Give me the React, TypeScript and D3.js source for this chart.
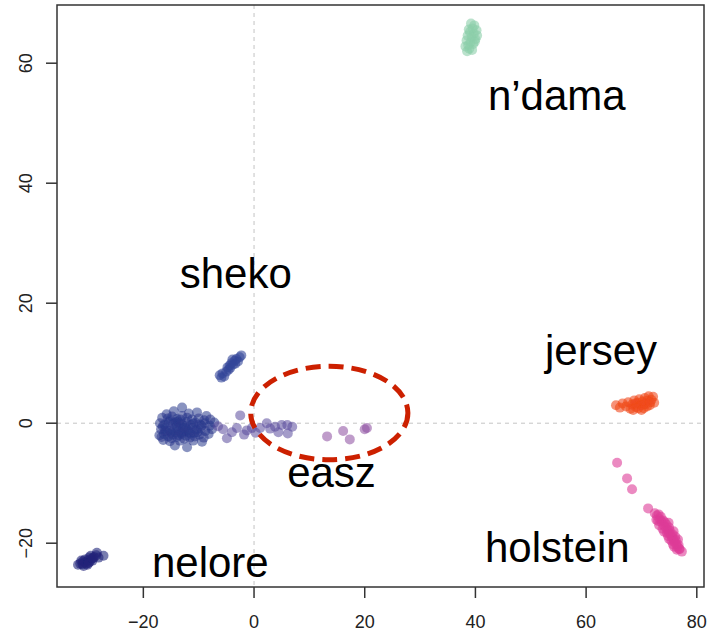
import React from "react";
import * as d3 from "d3";

// PCA scores (PC1, PC2) per breed group
const nelore: [number, number][] = [
  [-31.8, -23.6], [-31.4, -23.4], [-31.0, -23.5], [-30.6, -23.2], [-30.9, -23.0],
  [-30.3, -23.4], [-30.0, -22.9], [-29.7, -23.1], [-30.5, -22.7], [-29.4, -22.6],
  [-29.8, -22.4], [-29.2, -22.9], [-28.9, -22.3], [-29.5, -22.1], [-28.5, -22.0],
  [-31.2, -22.9], [-30.1, -23.6], [-27.2, -22.1], [-28.1, -22.4], [-28.4, -21.6],
  [-30.8, -23.8], [-29.9, -23.3], [-29.1, -22.5],
];

const sheko: [number, number][] = [
  [-6.2, 8.0], [-5.7, 8.3], [-5.4, 7.8], [-5.0, 8.6], [-4.8, 9.3], [-4.4, 9.6],
  [-4.1, 10.0], [-3.8, 9.8], [-3.5, 10.4], [-3.2, 10.7], [-2.9, 10.3], [-2.6, 11.0],
  [-2.3, 11.3], [-4.6, 8.9], [-3.9, 10.6], [-5.9, 7.6], [-4.3, 9.2], [-3.4, 9.9],
];

const zebu: [number, number][] = [
  [-14.5, 2.0], [-13.0, 2.6], [-11.8, 1.6], [-10.3, 1.8], [-15.8, 1.5], [-8.6, 1.2],
  [-16.6, 0.9], [-15.6, 0.8], [-14.8, 1.1], [-13.9, 0.7], [-13.0, 1.2], [-12.1, 0.9],
  [-11.2, 0.6], [-10.0, 0.8], [-9.0, 0.5], [-7.9, 0.6],
  [-17.0, 0.0], [-16.2, -0.2], [-15.4, 0.2], [-14.6, -0.1], [-13.8, 0.3], [-13.0, -0.2],
  [-12.2, 0.2], [-11.4, -0.3], [-10.6, 0.1], [-9.8, -0.2], [-8.9, 0.0], [-8.0, -0.4], [-7.2, 0.1],
  [-16.8, -1.0], [-16.0, -0.8], [-15.2, -1.2], [-14.4, -0.9], [-13.6, -1.3], [-12.8, -0.9],
  [-12.0, -1.2], [-11.2, -0.8], [-10.4, -1.1], [-9.6, -0.9], [-8.8, -1.3], [-7.6, -1.0],
  [-17.1, -2.0], [-16.3, -1.8], [-15.5, -2.2], [-14.7, -1.9], [-13.9, -2.3], [-13.1, -1.8],
  [-12.3, -2.1], [-11.5, -1.7], [-10.7, -2.2], [-9.9, -1.9], [-9.1, -2.4], [-8.2, -1.8],
  [-16.4, -2.8], [-14.3, -3.7], [-13.4, -2.9], [-12.1, -4.0], [-11.0, -2.9], [-9.4, -3.1], [-15.2, -3.0],
  [-14.0, -0.5], [-13.2, -1.6], [-12.5, -0.5], [-15.0, -1.6], [-11.8, -1.5], [-14.2, -1.5],
  [-13.5, 0.0], [-12.7, -1.4], [-15.8, -1.4], [-16.5, -0.5], [-10.2, -1.5], [-11.0, -0.1],
  [-15.1, 0.5], [-14.1, 0.1], [-13.3, 0.6], [-12.4, -0.8], [-16.1, -1.3], [-14.9, -2.5],
  [-13.7, -2.0], [-12.6, -2.6], [-11.6, -2.4], [-10.8, -1.6], [-9.5, -0.4], [-16.7, -2.3],
];

const admixed: [number, number][] = [
  [-6.5, -0.5], [-4.9, -2.5], [-4.0, -1.5], [-2.5, 1.3], [-3.1, -0.8], [-1.8, -1.9],
  [-1.3, -1.2], [-0.4, -0.8], [0.3, -1.6], [1.1, -0.8], [2.3, 0.0], [2.9, -0.9],
  [3.8, -0.6], [4.4, -1.5], [5.0, -0.3], [6.0, -0.3], [6.1, -1.7], [6.9, -0.6], [-5.6, -1.0],
];

const easz: [number, number][] = [
  [13.2, -2.2], [16.1, -1.3], [17.3, -2.7], [20.0, -1.0], [20.4, -0.8],
];

const ndama: [number, number][] = [
  [39.2, 66.6], [39.8, 66.3], [39.5, 65.8], [40.2, 65.5], [39.0, 65.2], [39.7, 64.9],
  [38.6, 64.6], [39.3, 64.3], [40.0, 64.0], [38.4, 63.8], [39.1, 63.5], [38.7, 63.0],
  [39.6, 63.2], [38.2, 62.8], [38.9, 62.4], [38.5, 62.0], [39.4, 62.2], [40.3, 64.6],
  [38.8, 65.6], [39.9, 63.6],
];

const jersey: [number, number][] = [
  [65.4, 3.0], [66.1, 2.6], [66.6, 3.3], [67.2, 2.8], [67.6, 3.5], [68.0, 2.4],
  [68.3, 3.1], [68.7, 3.8], [69.0, 2.7], [69.3, 3.4], [69.6, 4.0], [69.9, 3.0],
  [70.2, 3.6], [70.4, 2.5], [70.6, 4.2], [70.8, 3.2], [71.1, 3.8], [71.3, 4.5],
  [71.5, 3.0], [71.8, 3.9], [72.1, 4.4], [71.0, 2.8], [70.0, 2.2], [68.5, 2.2], [72.3, 3.4],
  [69.4, 2.5], [70.5, 3.3], [71.6, 3.5], [68.9, 3.3],
];

const holstein: [number, number][] = [
  [65.6, -6.6], [67.4, -9.2], [68.3, -11.0], [71.2, -14.2],
  [72.4, -15.0], [72.8, -15.4], [73.1, -15.2], [73.3, -16.0], [73.6, -16.4], [73.9, -16.2],
  [74.0, -17.0], [74.3, -17.3], [74.5, -16.9], [74.7, -17.8], [74.9, -18.2], [75.1, -17.9],
  [75.3, -18.6], [75.5, -19.0], [75.6, -18.5], [75.8, -19.4], [76.0, -19.8], [76.2, -19.5],
  [76.3, -20.2], [76.5, -20.6], [76.7, -20.3], [76.9, -21.0], [77.3, -21.4], [73.5, -15.6],
  [74.8, -18.8], [75.9, -20.6], [76.4, -21.1], [73.0, -16.3], [74.2, -16.5], [75.0, -17.4],
  [75.4, -19.6], [76.1, -18.9], [76.8, -20.9], [73.8, -17.6], [74.6, -18.3],
  [73.2, -17.0], [74.1, -18.1], [75.0, -19.3], [75.7, -20.2], [74.9, -16.6], [75.8, -18.0],
  [76.6, -19.4], [72.7, -16.1],
];

const xTicks = [-20, 0, 20, 40, 60, 80];
const yTicks = [-20, 0, 20, 40, 60];

// breed names and the (PC1, PC2) point each name is centred on
const breedNames = ["n’dama", "sheko", "jersey", "easz", "holstein", "nelore"];
const breedNameAt: [number, number][] = [
  [54.7, 52.2], [-3.3, 22.5], [62.7, 9.7], [14.0, -10.7], [54.8, -23.2], [-7.9, -25.7],
];

// highlighted region around the easz samples: centre, radii (in PC units)
const highlightCentre: [number, number] = [13.6, 1.7];
const highlightRadii: [number, number] = [14.2, 7.8];

const groups = [
  { pts: nelore, color: "#22237a", op: 0.6 },
  { pts: zebu, color: "#2a398c", op: 0.55 },
  { pts: sheko, color: "#34469a", op: 0.6 },
  { pts: admixed, color: "#5a4b9c", op: 0.55 },
  { pts: easz, color: "#8a4a9e", op: 0.55 },
  { pts: ndama, color: "#8ccfaa", op: 0.6 },
  { pts: jersey, color: "#f04a1a", op: 0.6 },
  { pts: holstein, color: "#de3c98", op: 0.6 },
];

export default function App() {
  const W = 712;
  const H = 634;
  const left = 57, right = 704, top = 5, bottom = 587;
  const x = d3.scaleLinear().domain([-35.6, 81.3]).range([left, right]);
  const y = d3.scaleLinear().domain([-27.3, 69.7]).range([bottom, top]);
  const font = "'Liberation Sans', Arial, Helvetica, sans-serif";

  return (
    <svg
      width={W}
      height={H}
      style={{ position: "absolute", left: 0, top: 0, background: "#fff" }}
      fontFamily={font}
    >
      <defs>
        <filter id="soft" x="-10%" y="-10%" width="120%" height="120%">
          <feGaussianBlur stdDeviation={0.6} />
        </filter>
      </defs>

      {/* zero reference lines */}
      <line x1={x(0)} x2={x(0)} y1={top} y2={bottom} stroke="#c4c4c4" strokeDasharray="4,4" strokeWidth={1} />
      <line x1={left} x2={right} y1={y(0)} y2={y(0)} stroke="#c4c4c4" strokeDasharray="4,4" strokeWidth={1} />

      {/* samples */}
      <g filter="url(#soft)">
        {groups.map((g, gi) =>
          g.pts.map((p, i) => (
            <circle key={`${gi}-${i}`} cx={x(p[0])} cy={y(p[1])} r={5} fill={g.color} fillOpacity={g.op} />
          ))
        )}
      </g>

      {/* highlight ellipse */}
      <ellipse
        cx={x(highlightCentre[0])}
        cy={y(highlightCentre[1])}
        rx={x(highlightRadii[0]) - x(0)}
        ry={y(0) - y(highlightRadii[1])}
        fill="none"
        stroke="#cc2000"
        strokeWidth={5}
        strokeDasharray="15,8"
      />

      {/* breed names */}
      {breedNames.map((t, i) => (
        <text
          key={t}
          x={x(breedNameAt[i][0])}
          y={y(breedNameAt[i][1])}
          textAnchor="middle"
          fontSize={42}
          fill="#000"
        >
          {t}
        </text>
      ))}

      {/* frame */}
      <rect x={left} y={top} width={right - left} height={bottom - top} fill="none" stroke="#333" strokeWidth={1.5} />

      {/* x axis */}
      {xTicks.map((t) => (
        <g key={`x${t}`}>
          <line x1={x(t)} x2={x(t)} y1={bottom} y2={bottom + 11} stroke="#333" strokeWidth={1.5} />
          <text x={x(t)} y={628} textAnchor="middle" fontSize={18} fill="#222">
            {t < 0 ? `−${-t}` : `${t}`}
          </text>
        </g>
      ))}

      {/* y axis */}
      {yTicks.map((t) => (
        <g key={`y${t}`}>
          <line x1={left - 11} x2={left} y1={y(t)} y2={y(t)} stroke="#333" strokeWidth={1.5} />
          <text
            transform={`translate(32,${y(t)}) rotate(-90)`}
            textAnchor="middle"
            fontSize={18}
            fill="#222"
          >
            {t < 0 ? `−${-t}` : `${t}`}
          </text>
        </g>
      ))}
    </svg>
  );
}
